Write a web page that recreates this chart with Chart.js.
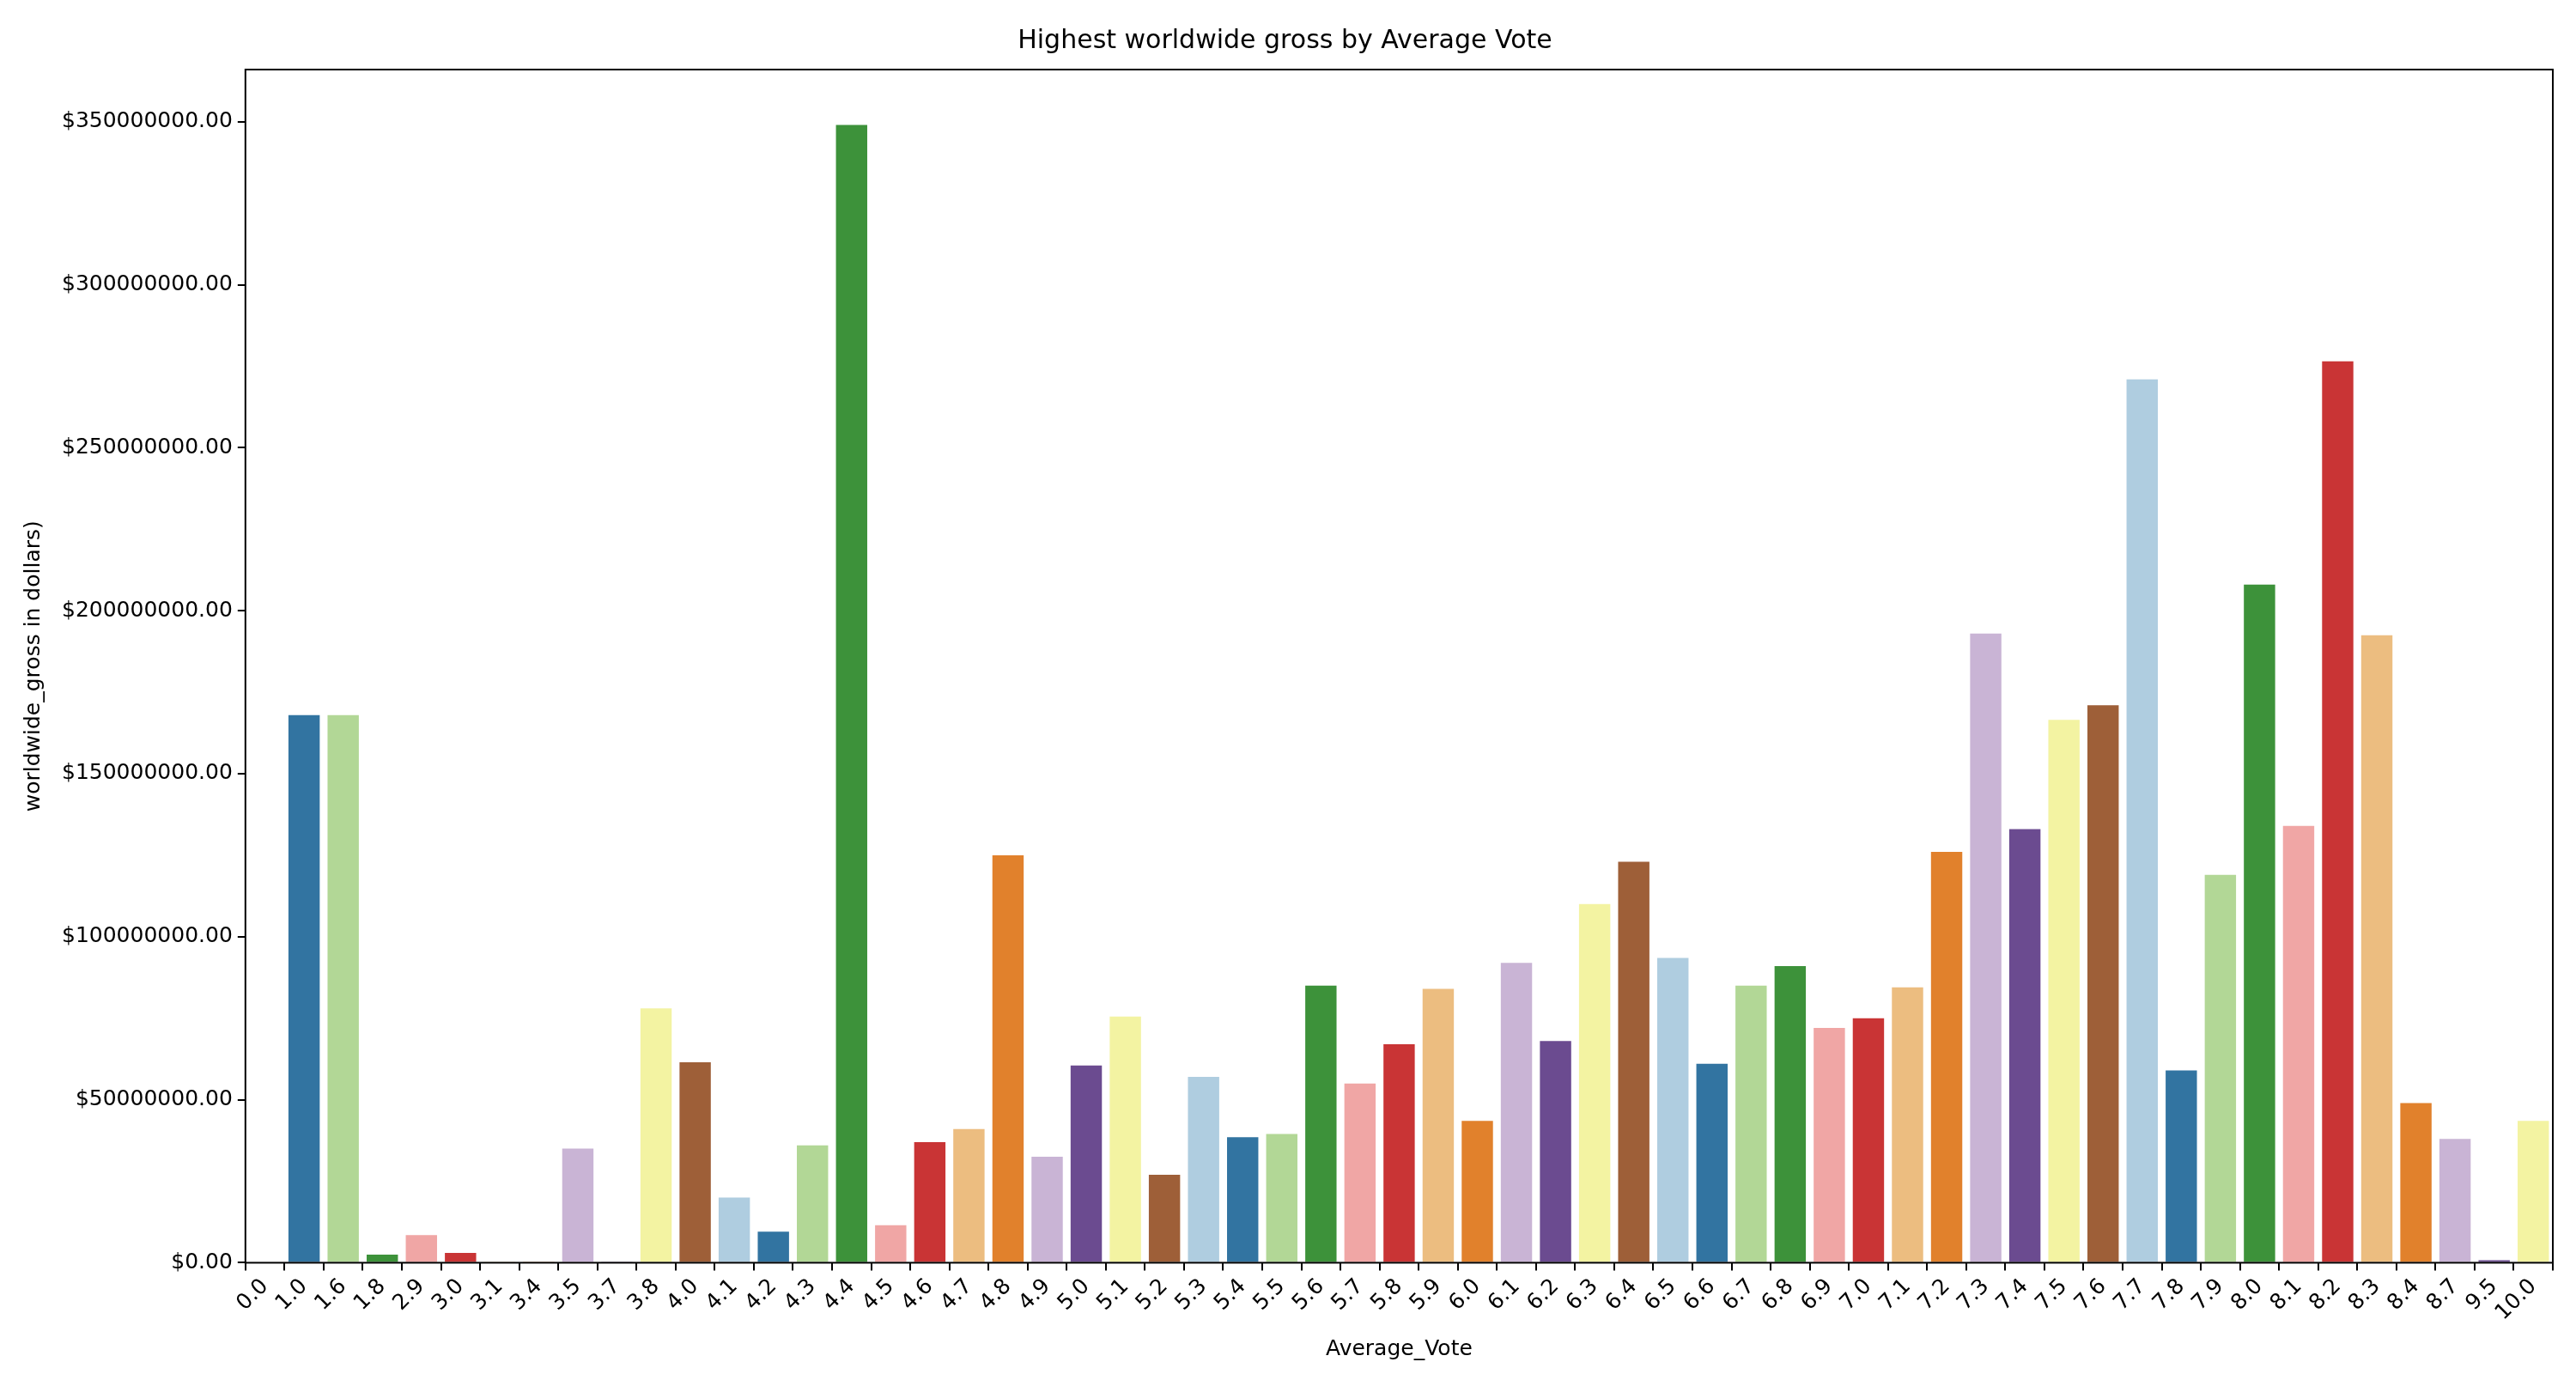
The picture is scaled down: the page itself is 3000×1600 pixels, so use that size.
<!DOCTYPE html>
<html>
<head>
<meta charset="utf-8">
<script src="https://cdn.jsdelivr.net/npm/chart.js@4/dist/chart.umd.min.js"></script>
<style>
  html, body { margin: 0; padding: 0; background: #fff; }
  #wrap { width: 3000px; height: 1600px; }
</style>
</head>
<body>
<div id="wrap"><canvas id="chart" width="3000" height="1600"></canvas></div>
<script>
// average vote categories
const votes = ['0.0','1.0','1.6','1.8','2.9','3.0','3.1','3.4','3.5','3.7','3.8','4.0','4.1','4.2','4.3','4.4','4.5','4.6','4.7','4.8','4.9','5.0','5.1','5.2','5.3','5.4','5.5','5.6','5.7','5.8','5.9','6.0','6.1','6.2','6.3','6.4','6.5','6.6','6.7','6.8','6.9','7.0','7.1','7.2','7.3','7.4','7.5','7.6','7.7','7.8','7.9','8.0','8.1','8.2','8.3','8.4','8.7','9.5','10.0']
// highest worldwide gross, millions of dollars
const grossMillions = [0, 168, 168, 2.5, 8.5, 3, 0.3, 0.2, 35, 0.3, 78, 61.5, 20, 9.5, 36, 349, 11.5, 37, 41, 125, 32.5, 60.5, 75.5, 27, 57, 38.5, 39.5, 85, 55, 67, 84, 43.5, 92, 68, 110, 123, 93.5, 61, 85, 91, 72, 75, 84.5, 126, 193, 133, 166.5, 171, 271, 59, 119, 208, 134, 276.5, 192.5, 49, 38, 0.8, 43.5]
const paired = ['#afcde0','#3274a1','#b2d796','#3d923a','#f0a6a5','#c93435','#ecbd80','#e1812c','#c9b4d5','#6b4b90','#f3f3a2','#9e5f38']
const yTicks = [0, 50e6, 100e6, 150e6, 200e6, 250e6, 300e6, 350e6]

const gross = grossMillions.map(v => v * 1e6)
const colors = votes.map((_, i) => paired[i % paired.length])

const frame = {
    id: 'frame',
    afterDraw(chart) {
        const a = chart.chartArea, ctx = chart.ctx
        ctx.save()
        ctx.strokeStyle = '#000'
        ctx.lineWidth = 2
        ctx.strokeRect(a.left, a.top, a.right - a.left, a.bottom - a.top)
        ctx.restore()
    }
}

const font = { family: 'DejaVu Sans', size: 25 }

new Chart(document.getElementById('chart'), {
    type: 'bar',
    data: {
        labels: votes,
        datasets: [{
            data: gross,
            backgroundColor: colors,
            barPercentage: 0.8,
            categoryPercentage: 1
        }]
    },
    options: {
        responsive: false,
        devicePixelRatio: 1,
        animation: false,
        layout: { padding: { left: 20, right: 27, top: 10, bottom: 10 } },
        plugins: {
            legend: { display: false },
            tooltip: { enabled: false },
            title: {
                display: true,
                text: 'Highest worldwide gross by Average Vote',
                color: '#000',
                font: { family: 'DejaVu Sans', size: 30, weight: 'normal' },
                padding: { top: 20, bottom: 15 }
            }
        },
        scales: {
            x: {
                offset: true,
                grid: { display: true, drawOnChartArea: false, drawTicks: true, tickLength: 9, color: '#000', lineWidth: 2 },
                border: { display: false },
                ticks: { color: '#000', font: font, maxRotation: 45, minRotation: 45, autoSkip: false, padding: 4 },
                title: { display: true, text: 'Average_Vote', color: '#000', font: font, padding: { top: 8 } }
            },
            y: {
                min: 0,
                max: 366e6,
                afterBuildTicks(axis) { axis.ticks = yTicks.map(v => ({ value: v })) },
                grid: { display: true, drawOnChartArea: false, drawTicks: true, tickLength: 9, color: '#000', lineWidth: 2 },
                border: { display: false },
                ticks: { color: '#000', font: font, padding: 6, callback: v => '$' + v.toFixed(2) },
                title: { display: true, text: 'worldwide_gross in dollars)', color: '#000', font: font, padding: { bottom: 12 } }
            }
        }
    },
    plugins: [frame]
})
</script>
</body>
</html>
